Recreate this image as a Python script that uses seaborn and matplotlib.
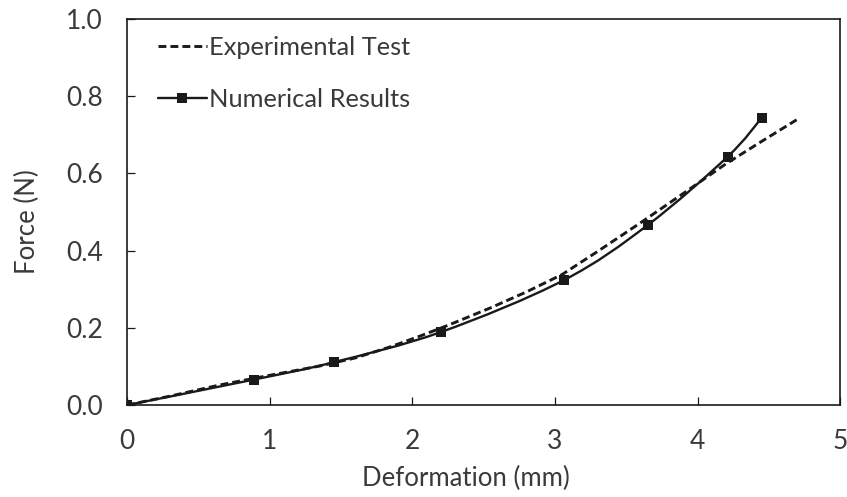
import matplotlib
matplotlib.use("Agg")
import matplotlib.pyplot as plt
from matplotlib.path import Path
from matplotlib.patches import PathPatch
from matplotlib.lines import Line2D
import seaborn as sns
import pandas as pd

# Experimental force–deformation curve (mm, N)
exp_deformation = [0.0, 0.30, 0.65, 1.00, 1.35, 1.60, 1.84, 2.05, 2.26, 2.55, 2.80, 3.05, 3.30, 3.60, 3.90, 4.20, 4.45, 4.70]
exp_force = [0.0, 0.023, 0.052, 0.077, 0.101, 0.122, 0.150, 0.178, 0.208, 0.252, 0.293, 0.338, 0.398, 0.472, 0.548, 0.625, 0.683, 0.740]

# Numerical model results
num_deformation = [0.0, 0.89, 1.45, 2.20, 3.06, 3.65, 4.21, 4.45]
num_force = [0.0, 0.066, 0.111, 0.189, 0.323, 0.466, 0.643, 0.744]

x_ticks = [0, 1, 2, 3, 4, 5]
y_ticks = [0.0, 0.2, 0.4, 0.6, 0.8, 1.0]

sns.set_style("ticks")
plt.rcParams["font.family"] = ["Lato", "DejaVu Sans"]

ink = "#1a1a1a"
text_col = "#3a3a3a"


def smooth_path(xs, ys, k=1.0 / 6.0):
    """Cubic Bezier path through the points (spreadsheet-style smoothed line)."""
    pts = list(zip(xs, ys))
    n = len(pts)
    verts = [pts[0]]
    codes = [Path.MOVETO]
    for i in range(n - 1):
        p0 = pts[i - 1] if i > 0 else pts[i]
        p1 = pts[i]
        p2 = pts[i + 1]
        p3 = pts[i + 2] if i + 2 < n else pts[i + 1]
        c1 = (p1[0] + (p2[0] - p0[0]) * k, p1[1] + (p2[1] - p0[1]) * k)
        c2 = (p2[0] - (p3[0] - p1[0]) * k, p2[1] - (p3[1] - p1[1]) * k)
        verts += [c1, c2, p2]
        codes += [Path.CURVE4, Path.CURVE4, Path.CURVE4]
    return Path(verts, codes)


fig = plt.figure(figsize=(8.47, 4.97), dpi=100)
ax = fig.add_axes([0.150, 0.185, 0.842, 0.777])

exp_df = pd.DataFrame({"x": exp_deformation, "y": exp_force})
num_df = pd.DataFrame({"x": num_deformation, "y": num_force})

dash = (0, (2.7, 1.4))
sns.lineplot(data=exp_df, x="x", y="y", ax=ax, color=ink, linewidth=2.1,
             linestyle=dash, sort=False, estimator=None, legend=False)

# smoothed numerical line, then its square markers on top
ax.add_patch(PathPatch(smooth_path(num_deformation, num_force), facecolor="none",
                       edgecolor=ink, linewidth=1.7, transform=ax.transData))
sns.scatterplot(data=num_df, x="x", y="y", ax=ax, color=ink, marker="s",
                s=62, linewidth=0, legend=False, zorder=3)

ax.set_xlim(0, 5)
ax.set_ylim(0, 1.0)
ax.set_xticks(x_ticks)
ax.set_xticklabels([str(t) for t in x_ticks])
ax.set_yticks(y_ticks)
ax.set_yticklabels([f"{t:.1f}" for t in y_ticks])

for side in ["left", "right", "top", "bottom"]:
    ax.spines[side].set_visible(True)
    ax.spines[side].set_color(ink)
    ax.spines[side].set_linewidth(1.2)

ax.tick_params(axis="both", direction="in", length=6, width=0.9,
               colors=ink, labelcolor=text_col, labelsize=19)
ax.tick_params(axis="x", pad=17)
ax.tick_params(axis="y", pad=17.5)

ax.set_xlabel("Deformation (mm)", fontsize=18.5, color=text_col)
ax.set_ylabel("Force (N)", fontsize=18.5, color=text_col)
ax.xaxis.set_label_coords(0.4755, -0.158)
ax.yaxis.set_label_coords(-0.122, 0.474)

handles = [
    Line2D([], [], color=ink, linewidth=2.1, linestyle=dash),
    Line2D([], [], color=ink, linewidth=1.7, marker="s", markersize=7.5,
           markeredgewidth=0),
]
leg = ax.legend(handles, ["Experimental Test", "Numerical Results"],
                loc="upper left", bbox_to_anchor=(0.186, 0.928),
                bbox_transform=fig.transFigure, frameon=False,
                fontsize=18.3, handlelength=1.95, handletextpad=0.08,
                labelspacing=1.13, borderpad=0, borderaxespad=0)
for t in leg.get_texts():
    t.set_color(text_col)

fig.savefig("out.png", dpi=100)
